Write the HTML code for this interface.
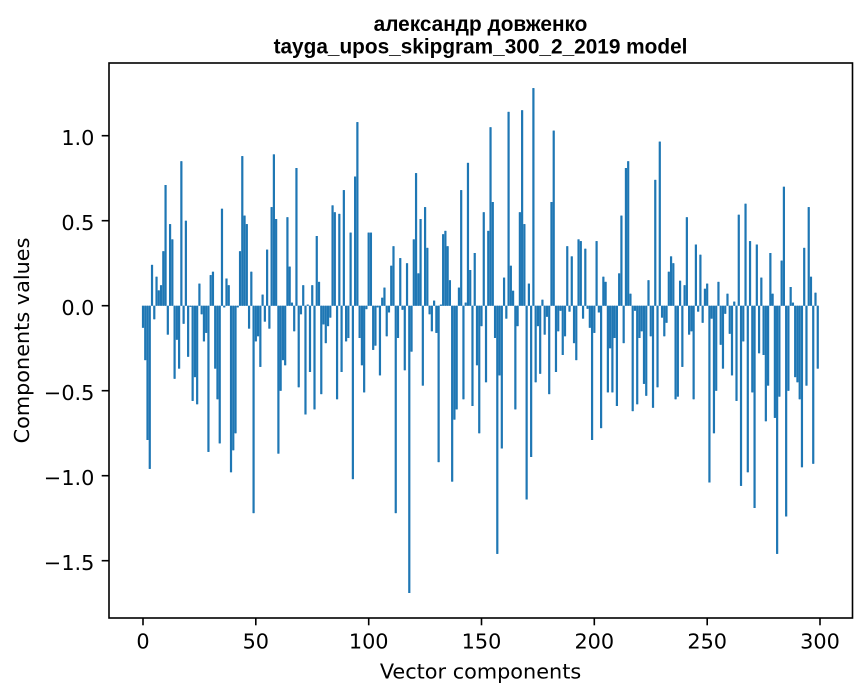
<!DOCTYPE html>
<html>
<head>
<meta charset="utf-8">
<style>
html,body{margin:0;padding:0;background:#fff;}
svg{display:block;}
.t{font-family:"DejaVu Sans","Liberation Sans",sans-serif;font-size:20.8px;fill:#000;}
.ti{font-family:"Liberation Sans","DejaVu Sans",sans-serif;font-size:20.8px;font-weight:bold;fill:#000;}
</style>
</head>
<body>
<svg width="867" height="696" viewBox="0 0 867 696" xmlns="http://www.w3.org/2000/svg" xmlns:xlink="http://www.w3.org/1999/xlink">
<rect x="0" y="0" width="867" height="696" fill="#fff"/>
<g id="bars" transform="translate(142.8,305.7) scale(2.2567,-170)">
<path fill="#1f77b4" d="M-.4 0h.8v-.13h-.8z
m1 0h.8v-.32h-.8zm1 0h.8v-.79h-.8zm1 0h.8v-.96h-.8zm1 0h.8v.24h-.8zm1 0h.8v-.08h-.8zm1 0h.8v.17h-.8zm1 0h.8v.09h-.8zm1 0h.8v.12h-.8zm1 0h.8v.32h-.8z
m1 0h.8v.71h-.8zm1 0h.8v-.17h-.8zm1 0h.8v.48h-.8zm1 0h.8v.39h-.8zm1 0h.8v-.43h-.8zm1 0h.8v-.2h-.8zm1 0h.8v-.37h-.8zm1 0h.8v.85h-.8zm1 0h.8v-.106h-.8zm1 0h.8v.5h-.8z
m1 0h.8v-.3h-.8zm1 0h.8v-.006h-.8zm1 0h.8v-.56h-.8zm1 0h.8v-.42h-.8zm1 0h.8v-.58h-.8zm1 0h.8v.13h-.8zm1 0h.8v-.05h-.8zm1 0h.8v-.21h-.8zm1 0h.8v-.16h-.8zm1 0h.8v-.86h-.8z
m1 0h.8v.18h-.8zm1 0h.8v.2h-.8zm1 0h.8v-.37h-.8zm1 0h.8v-.55h-.8zm1 0h.8v-.81h-.8zm1 0h.8v.57h-.8zm1 0h.8v-.01h-.8zm1 0h.8v.16h-.8zm1 0h.8v.12h-.8zm1 0h.8v-.98h-.8z
m1 0h.8v-.85h-.8zm1 0h.8v-.75h-.8zm1 0h.8v-.01h-.8zm1 0h.8v.32h-.8zm1 0h.8v.88h-.8zm1 0h.8v.53h-.8zm1 0h.8v.48h-.8zm1 0h.8v-.135h-.8zm1 0h.8v.2h-.8zm1 0h.8v-1.22h-.8z
m1 0h.8v-.21h-.8zm1 0h.8v-.18h-.8zm1 0h.8v-.36h-.8zm1 0h.8v.065h-.8zm1 0h.8v-.094h-.8zm1 0h.8v.33h-.8zm1 0h.8v-.135h-.8zm1 0h.8v.58h-.8zm1 0h.8v.89h-.8zm1 0h.8v.51h-.8z
m1 0h.8v-.87h-.8zm1 0h.8v-.5h-.8zm1 0h.8v-.32h-.8zm1 0h.8v-.35h-.8zm1 0h.8v.52h-.8zm1 0h.8v.23h-.8zm1 0h.8v.018h-.8zm1 0h.8v-.15h-.8zm1 0h.8v.81h-.8zm1 0h.8v-.48h-.8z
m1 0h.8v-.05h-.8zm1 0h.8v.12h-.8zm1 0h.8v-.64h-.8zm1 0h.8v.006h-.8zm1 0h.8v-.39h-.8zm1 0h.8v.12h-.8zm1 0h.8v-.61h-.8zm1 0h.8v.41h-.8zm1 0h.8v.14h-.8zm1 0h.8v-.52h-.8z
m1 0h.8v-.11h-.8zm1 0h.8v-.22h-.8zm1 0h.8v-.12h-.8zm1 0h.8v-.07h-.8zm1 0h.8v.59h-.8zm1 0h.8v.55h-.8zm1 0h.8v-.55h-.8zm1 0h.8v.54h-.8zm1 0h.8v-.39h-.8zm1 0h.8v.68h-.8z
m1 0h.8v-.21h-.8zm1 0h.8v-.19h-.8zm1 0h.8v.43h-.8zm1 0h.8v-1.02h-.8zm1 0h.8v.76h-.8zm1 0h.8v1.08h-.8zm1 0h.8v-.19h-.8zm1 0h.8v-.35h-.8zm1 0h.8v-.51h-.8zm1 0h.8v-.02h-.8z
m1 0h.8v.43h-.8zm1 0h.8v.43h-.8zm1 0h.8v-.26h-.8zm1 0h.8v-.235h-.8zm1 0h.8v-.01h-.8zm1 0h.8v-.41h-.8zm1 0h.8v.047h-.8zm1 0h.8v.106h-.8zm1 0h.8v-.18h-.8zm1 0h.8v-.04h-.8z
m1 0h.8v.235h-.8zm1 0h.8v.35h-.8zm1 0h.8v-1.22h-.8zm1 0h.8v-.19h-.8zm1 0h.8v.28h-.8zm1 0h.8v-.024h-.8zm1 0h.8v-.38h-.8zm1 0h.8v.25h-.8zm1 0h.8v-1.69h-.8zm1 0h.8v-.27h-.8z
m1 0h.8v.39h-.8zm1 0h.8v.78h-.8zm1 0h.8v.19h-.8zm1 0h.8v.51h-.8zm1 0h.8v-.47h-.8zm1 0h.8v.58h-.8zm1 0h.8v.34h-.8zm1 0h.8v-.05h-.8zm1 0h.8v-.15h-.8zm1 0h.8v.03h-.8z
m1 0h.8v-.16h-.8zm1 0h.8v-.92h-.8zm1 0h.8v.006h-.8zm1 0h.8v.42h-.8zm1 0h.8v.44h-.8zm1 0h.8v.35h-.8zm1 0h.8v.15h-.8zm1 0h.8v-1.035h-.8zm1 0h.8v-.67h-.8zm1 0h.8v-.61h-.8z
m1 0h.8v.106h-.8zm1 0h.8v.68h-.8zm1 0h.8v-.55h-.8zm1 0h.8v.018h-.8zm1 0h.8v.84h-.8zm1 0h.8v.21h-.8zm1 0h.8v-.59h-.8zm1 0h.8v.31h-.8zm1 0h.8v-.35h-.8zm1 0h.8v-.75h-.8z
m1 0h.8v-.12h-.8zm1 0h.8v.55h-.8zm1 0h.8v-.45h-.8zm1 0h.8v.44h-.8zm1 0h.8v1.05h-.8zm1 0h.8v.61h-.8zm1 0h.8v-.19h-.8zm1 0h.8v-1.46h-.8zm1 0h.8v-.41h-.8zm1 0h.8v-.84h-.8z
m1 0h.8v.165h-.8zm1 0h.8v-.076h-.8zm1 0h.8v1.14h-.8zm1 0h.8v.235h-.8zm1 0h.8v.088h-.8zm1 0h.8v-.61h-.8zm1 0h.8v-.12h-.8zm1 0h.8v.55h-.8zm1 0h.8v1.15h-.8zm1 0h.8v.48h-.8z
m1 0h.8v-1.14h-.8zm1 0h.8v.13h-.8zm1 0h.8v-.89h-.8zm1 0h.8v1.28h-.8zm1 0h.8v-.45h-.8zm1 0h.8v-.12h-.8zm1 0h.8v-.4h-.8zm1 0h.8v.035h-.8zm1 0h.8v-.17h-.8zm1 0h.8v-.065h-.8z
m1 0h.8v-.52h-.8zm1 0h.8v.61h-.8zm1 0h.8v1.03h-.8zm1 0h.8v-.39h-.8zm1 0h.8v-.15h-.8zm1 0h.8v-.03h-.8zm1 0h.8v-.29h-.8zm1 0h.8v-.18h-.8zm1 0h.8v.35h-.8zm1 0h.8v-.035h-.8z
m1 0h.8v.29h-.8zm1 0h.8v-.22h-.8zm1 0h.8v-.32h-.8zm1 0h.8v.39h-.8zm1 0h.8v.38h-.8zm1 0h.8v-.076h-.8zm1 0h.8v.335h-.8zm1 0h.8v-.018h-.8zm1 0h.8v-.13h-.8zm1 0h.8v-.79h-.8z
m1 0h.8v-.16h-.8zm1 0h.8v.38h-.8zm1 0h.8v-.04h-.8zm1 0h.8v-.72h-.8zm1 0h.8v.17h-.8zm1 0h.8v.14h-.8zm1 0h.8v-.51h-.8zm1 0h.8v-.25h-.8zm1 0h.8v-.51h-.8zm1 0h.8v-.19h-.8z
m1 0h.8v-.59h-.8zm1 0h.8v.19h-.8zm1 0h.8v.53h-.8zm1 0h.8v-.22h-.8zm1 0h.8v.81h-.8zm1 0h.8v.85h-.8zm1 0h.8v.07h-.8zm1 0h.8v-.62h-.8zm1 0h.8v-.03h-.8zm1 0h.8v-.58h-.8z
m1 0h.8v-.19h-.8zm1 0h.8v-.15h-.8zm1 0h.8v-.46h-.8zm1 0h.8v-.53h-.8zm1 0h.8v.15h-.8zm1 0h.8v-.18h-.8zm1 0h.8v-.6h-.8zm1 0h.8v.74h-.8zm1 0h.8v-.48h-.8zm1 0h.8v.965h-.8z
m1 0h.8v-.07h-.8zm1 0h.8v-.18h-.8zm1 0h.8v-.1h-.8zm1 0h.8v.2h-.8zm1 0h.8v.29h-.8zm1 0h.8v.25h-.8zm1 0h.8v-.55h-.8zm1 0h.8v-.535h-.8zm1 0h.8v.147h-.8zm1 0h.8v-.36h-.8z
m1 0h.8v.12h-.8zm1 0h.8v.52h-.8zm1 0h.8v-.17h-.8zm1 0h.8v-.15h-.8zm1 0h.8v-.55h-.8zm1 0h.8v.36h-.8zm1 0h.8v-.035h-.8zm1 0h.8v.3h-.8zm1 0h.8v-.1h-.8zm1 0h.8v.1h-.8z
m1 0h.8v.13h-.8zm1 0h.8v-1.04h-.8zm1 0h.8v-.076h-.8zm1 0h.8v-.75h-.8zm1 0h.8v-.5h-.8zm1 0h.8v.14h-.8zm1 0h.8v-.23h-.8zm1 0h.8v-.37h-.8zm1 0h.8v-.047h-.8zm1 0h.8v.07h-.8z
m1 0h.8v-.165h-.8zm1 0h.8v-.41h-.8zm1 0h.8v.024h-.8zm1 0h.8v-.56h-.8zm1 0h.8v.535h-.8zm1 0h.8v-1.06h-.8zm1 0h.8v-.21h-.8zm1 0h.8v.6h-.8zm1 0h.8v-.98h-.8zm1 0h.8v.38h-.8z
m1 0h.8v-.51h-.8zm1 0h.8v-1.19h-.8zm1 0h.8v.36h-.8zm1 0h.8v-.28h-.8zm1 0h.8v.165h-.8zm1 0h.8v-.29h-.8zm1 0h.8v-.68h-.8zm1 0h.8v-.47h-.8zm1 0h.8v.31h-.8zm1 0h.8v.07h-.8z
m1 0h.8v-.66h-.8zm1 0h.8v-1.46h-.8zm1 0h.8v-.535h-.8zm1 0h.8v.265h-.8zm1 0h.8v.7h-.8zm1 0h.8v-1.24h-.8zm1 0h.8v-.5h-.8zm1 0h.8v.11h-.8zm1 0h.8v.018h-.8zm1 0h.8v-.42h-.8z
m1 0h.8v-.45h-.8zm1 0h.8v-.55h-.8zm1 0h.8v-.95h-.8zm1 0h.8v.34h-.8zm1 0h.8v-.47h-.8zm1 0h.8v.58h-.8zm1 0h.8v.17h-.8zm1 0h.8v-.93h-.8zm1 0h.8v.076h-.8zm1 0h.8v-.37h-.8z"/>
</g>
<use xlink:href="#bars" href="#bars" x="0.4" y="0"/>

<!-- axes frame -->
<rect x="109" y="63" width="743.5" height="555" fill="none" stroke="#000" stroke-width="1.6"/>

<!-- y ticks -->
<g stroke="#000" stroke-width="1.6">
<line x1="101.7" y1="135.7" x2="109" y2="135.7"/>
<line x1="101.7" y1="220.7" x2="109" y2="220.7"/>
<line x1="101.7" y1="305.7" x2="109" y2="305.7"/>
<line x1="101.7" y1="390.7" x2="109" y2="390.7"/>
<line x1="101.7" y1="475.7" x2="109" y2="475.7"/>
<line x1="101.7" y1="560.7" x2="109" y2="560.7"/>
</g>
<g class="t" text-anchor="end">
<text x="94.4" y="145">1.0</text>
<text x="94.4" y="230">0.5</text>
<text x="94.4" y="315">0.0</text>
<text x="94.4" y="400">−0.5</text>
<text x="94.4" y="485">−1.0</text>
<text x="94.4" y="570">−1.5</text>
</g>

<!-- x ticks -->
<g stroke="#000" stroke-width="1.6">
<line x1="143" y1="618" x2="143" y2="625.3"/>
<line x1="255.8" y1="618" x2="255.8" y2="625.3"/>
<line x1="368.7" y1="618" x2="368.7" y2="625.3"/>
<line x1="481.5" y1="618" x2="481.5" y2="625.3"/>
<line x1="594.3" y1="618" x2="594.3" y2="625.3"/>
<line x1="707.2" y1="618" x2="707.2" y2="625.3"/>
<line x1="820" y1="618" x2="820" y2="625.3"/>
</g>
<g class="t" text-anchor="middle">
<text x="143" y="648.7">0</text>
<text x="255.8" y="648.7">50</text>
<text x="368.7" y="648.7">100</text>
<text x="481.5" y="648.7">150</text>
<text x="594.3" y="648.7">200</text>
<text x="707.2" y="648.7">250</text>
<text x="820" y="648.7">300</text>
</g>

<!-- axis labels -->
<text class="t" x="480.5" y="678.3" text-anchor="middle">Vector components</text>
<text class="t" transform="translate(28.8,340.5) rotate(-90)" x="0" y="0" text-anchor="middle">Components values</text>

<!-- title -->
<text class="ti" x="480.5" y="31" text-anchor="middle">александр довженко</text>
<text class="ti" x="480.5" y="53.7" text-anchor="middle">tayga_upos_skipgram_300_2_2019 model</text>
</svg>
</body>
</html>
